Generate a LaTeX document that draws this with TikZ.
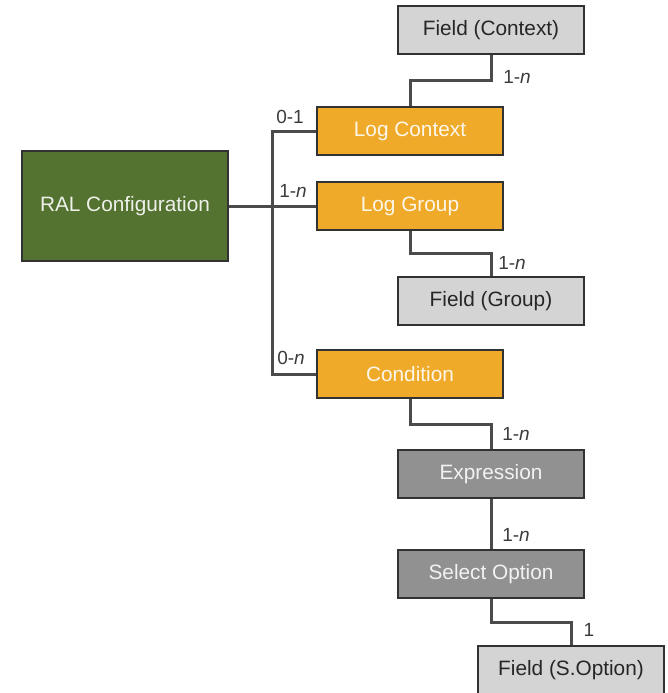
\documentclass[tikz,border=0pt]{standalone}
\usepackage{fontspec}
\setmainfont{Liberation Sans}
\usetikzlibrary{calc}
\definecolor{ralgreen}{RGB}{84,114,48}
\definecolor{logorange}{RGB}{239,170,42}
\definecolor{fieldgray}{RGB}{212,212,212}
\definecolor{darkbox}{RGB}{145,145,145}
\definecolor{edgecol}{RGB}{50,50,50}
\definecolor{linecol}{RGB}{75,75,75}
\definecolor{lbltext}{RGB}{60,60,60}
\begin{document}
\begin{tikzpicture}[x=1pt,y=-1pt,
  box/.style={rectangle, draw=edgecol, line width=2.4pt, minimum width=186pt, minimum height=48pt, inner sep=0pt, font=\fontsize{20.8}{24}\selectfont},
  ralbox/.style={box, fill=ralgreen, text=white!90!ralgreen, minimum width=206pt, minimum height=110pt},
  logbox/.style={box, fill=logorange, text=white!90!logorange},
  fieldbox/.style={box, fill=fieldgray, text=black!85},
  darkgraybox/.style={box, fill=darkbox, text=white!88!darkbox},
  conn/.style={draw=linecol, line width=3pt},
  lbl/.style={inner sep=0pt, text=lbltext, font=\fontsize{19}{22}\selectfont}
]
\useasboundingbox (0,0) rectangle (668,693);
\fill[white] (0,0) rectangle (668,693);

\node[fieldbox] (fc) at (491,30) {Field (Context)};
\node[logbox] (lc) at (410,131) {Log Context};
\node[ralbox] (ral) at (125,206) {RAL Configuration};
\node[logbox] (lg) at (410,206) {Log Group};
\node[fieldbox] (fg) at (491,301) {Field (Group)};
\node[logbox] (cond) at (410,374) {Condition};
\node[darkgraybox] (expr) at (491,474) {Expression};
\node[darkgraybox] (sel) at (491,574) {Select Option};
\node[fieldbox] (fs) at (571,670) {Field (S.Option)};

\coordinate (tr) at (272,0);

\draw[conn] (ral.east) -- (lg.west);
\draw[conn] (lc.west) -- (lc.west -| tr) -- (cond.west -| tr) -- (cond.west);
\draw[conn] (lc.north) |- ($(lc.north)!0.5!(fc.south)$) -| (fc.south);
\draw[conn] (lg.south) |- ($(lg.south)!0.5!(fg.north)$) -| (fg.north);
\draw[conn] (cond.south) |- ($(cond.south)!0.5!(expr.north)$) -| (expr.north);
\draw[conn] (expr.south) -- (sel.north);
\draw[conn] (sel.south) |- ($(sel.south)!0.5!(fs.north)$) -| (fs.north);

\node[lbl] (l1) at (517,77) {1-\textit{n}};
\node[lbl] (l2) at (290,117) {0-1};
\node[lbl] (l3) at (293,191) {1-\textit{n}};
\node[lbl] (l4) at (512,263) {1-\textit{n}};
\node[lbl] (l5) at (291,358) {0-\textit{n}};
\node[lbl] (l6) at (516,434) {1-\textit{n}};
\node[lbl] (l7) at (516,535) {1-\textit{n}};
\node[lbl] (l8) at (589,630) {1};
\end{tikzpicture}
\end{document}
